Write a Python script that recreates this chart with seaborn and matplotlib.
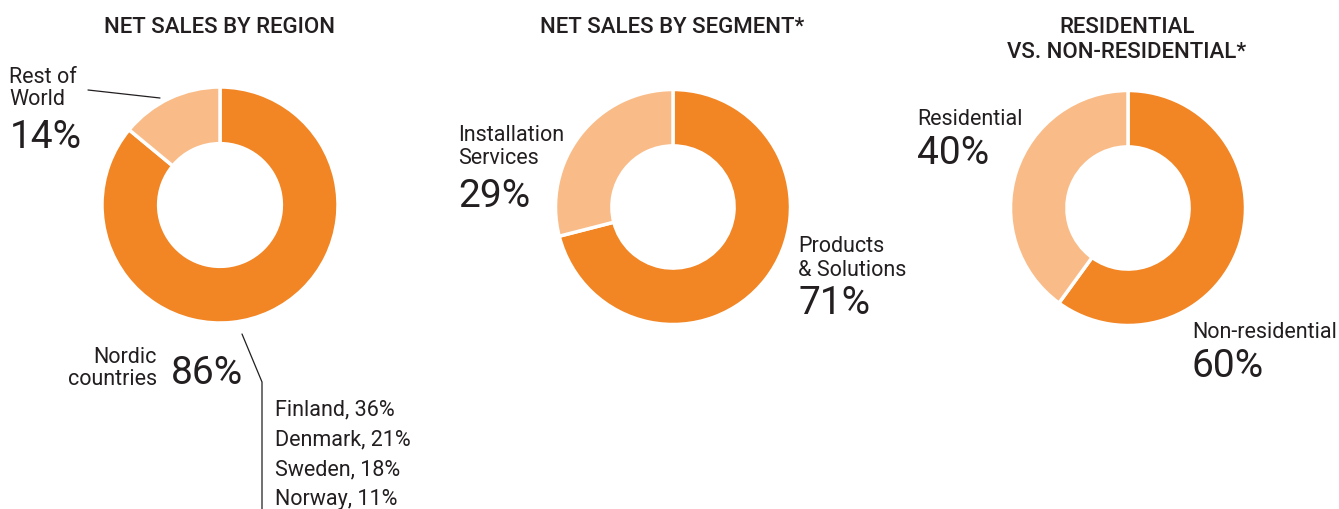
import matplotlib
matplotlib.use("Agg")
import matplotlib.pyplot as plt
from matplotlib.lines import Line2D
import seaborn as sns

# --- data -------------------------------------------------------------
region_labels = ["Nordic countries", "Rest of World"]
region_values = [86, 14]
nordic_breakdown = ["Finland, 36%", "Denmark, 21%", "Sweden, 18%", "Norway, 11%"]

segment_labels = ["Products & Solutions", "Installation Services"]
segment_values = [71, 29]

building_labels = ["Non-residential", "Residential"]
building_values = [60, 40]

titles = ["NET SALES BY REGION", "NET SALES BY SEGMENT*", "RESIDENTIAL\nVS. NON-RESIDENTIAL*"]

# --- style ------------------------------------------------------------
sns.set_theme(style="white")
plt.rcParams["font.family"] = ["Roboto", "DejaVu Sans"]
palette = sns.color_palette(["#F28524", "#F9BC88"])
TEXT = "#231F20"
LABEL_SIZE = 15.5
TITLE_SIZE = 16
PCT_SIZE = 28

W, H = 1339, 509
fig = plt.figure(figsize=(W / 100, H / 100), dpi=100)
fig.patch.set_facecolor("white")


def fx(x):
    return x / W


def fy(y):
    return 1 - y / H


def donut(cx, cy, r, values):
    ax = fig.add_axes([fx(cx - r), fy(cy + r), 2 * r / W, 2 * r / H])
    ax.pie(values, colors=palette, startangle=90, counterclock=False,
           radius=1.0, wedgeprops=dict(width=0.48, edgecolor="white", linewidth=2.5))
    ax.set_xlim(-1, 1)
    ax.set_ylim(-1, 1)
    ax.set_aspect("equal")
    ax.axis("off")
    return ax


def label(x, y, s, size=LABEL_SIZE, weight="normal", ha="left"):
    fig.text(fx(x), fy(y), s, fontsize=size, fontweight=weight, ha=ha,
             va="baseline", color=TEXT)


def title(x, y, s):
    label(x, y, s, size=TITLE_SIZE, weight="medium", ha="center")


def pct(x, y, v):
    label(x, y, f"{v}%", size=PCT_SIZE, weight="normal")


def leader(xs, ys):
    fig.add_artist(Line2D([fx(v) for v in xs], [fy(v) for v in ys],
                          color=TEXT, linewidth=0.9, transform=fig.transFigure))


# --- chart 1: region --------------------------------------------------
donut(220, 205, 118, region_values)
title(220, 33, titles[0])
label(9, 83, "Rest of")
label(9, 105, "World")
pct(10, 148, region_values[1])
leader([88, 160], [90, 98])
label(157, 363, "Nordic", ha="right")
label(157, 385, "countries", ha="right")
pct(171, 384, region_values[0])
leader([242, 262, 262], [334, 382, 509])
for i, s in enumerate(nordic_breakdown):
    label(275, 415 + 30 * i, s)

# --- chart 2: segment -------------------------------------------------
donut(673, 207, 117.5, segment_values)
title(672, 33, titles[1])
label(458, 141, "Installation")
label(458, 164, "Services")
pct(458, 207, segment_values[1])
label(798, 252, "Products")
label(798, 276, "& Solutions")
pct(798, 314, segment_values[0])

# --- chart 3: residential vs non-residential ---------------------------
donut(1128, 208, 117.5, building_values)
line1, line2 = titles[2].split("\n")
title(1127, 33, line1)
title(1127, 58, line2)
label(917, 125, building_labels[1])
pct(917, 164, building_values[1])
label(1192, 338, building_labels[0])
pct(1192, 377, building_values[0])

fig.savefig("out.png", dpi=100, facecolor="white")
